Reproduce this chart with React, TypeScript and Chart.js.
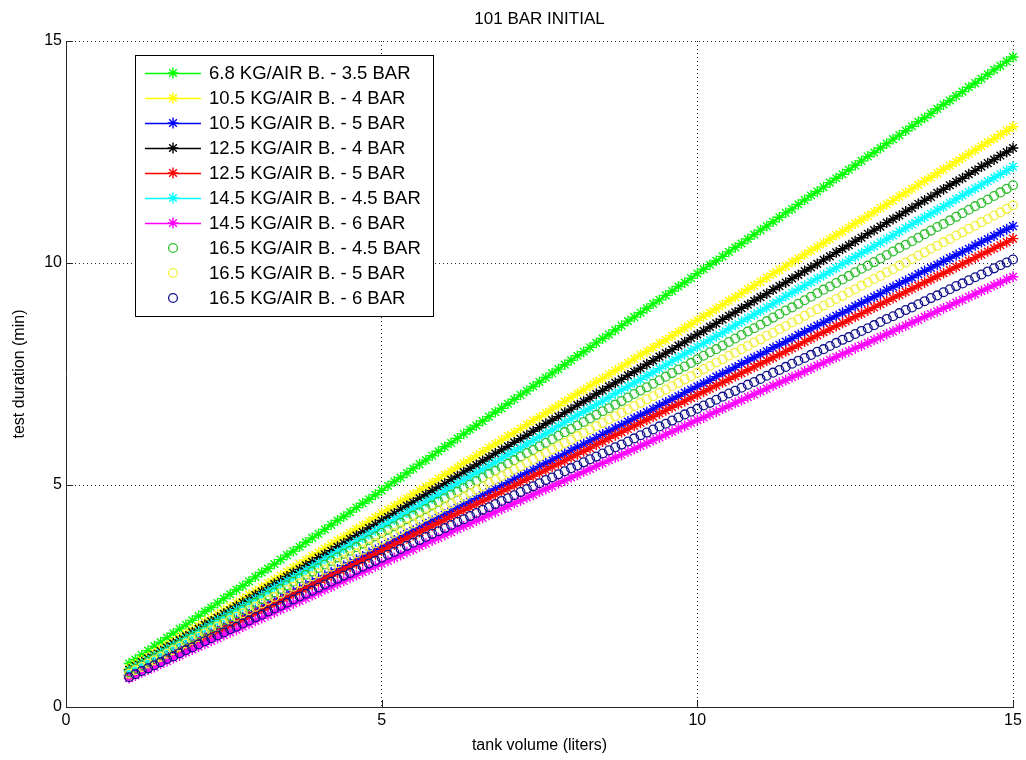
import React, { useEffect, useRef } from "react";
import { Chart, registerables } from "chart.js";
import { drawPoint } from "chart.js/helpers";

Chart.register(...registerables);

const TITLE = "101 BAR INITIAL";
const X_TITLE = "tank volume (liters)";
const Y_TITLE = "test duration (min)";
const X_TICKS = [0, 5, 10, 15];
const Y_TICKS = [0, 5, 10, 15];

const TANK_VOLUME = [
  1, 1.1, 1.2, 1.3, 1.4, 1.5, 1.6, 1.7, 1.8, 1.9,
  2, 2.1, 2.2, 2.3, 2.4, 2.5, 2.6, 2.7, 2.8, 2.9,
  3, 3.1, 3.2, 3.3, 3.4, 3.5, 3.6, 3.7, 3.8, 3.9,
  4, 4.1, 4.2, 4.3, 4.4, 4.5, 4.6, 4.7, 4.8, 4.9,
  5, 5.1, 5.2, 5.3, 5.4, 5.5, 5.6, 5.7, 5.8, 5.9,
  6, 6.1, 6.2, 6.3, 6.4, 6.5, 6.6, 6.7, 6.8, 6.9,
  7, 7.1, 7.2, 7.3, 7.4, 7.5, 7.6, 7.7, 7.8, 7.9,
  8, 8.1, 8.2, 8.3, 8.4, 8.5, 8.6, 8.7, 8.8, 8.9,
  9, 9.1, 9.2, 9.3, 9.4, 9.5, 9.6, 9.7, 9.8, 9.9,
  10, 10.1, 10.2, 10.3, 10.4, 10.5, 10.6, 10.7, 10.8, 10.9,
  11, 11.1, 11.2, 11.3, 11.4, 11.5, 11.6, 11.7, 11.8, 11.9,
  12, 12.1, 12.2, 12.3, 12.4, 12.5, 12.6, 12.7, 12.8, 12.9,
  13, 13.1, 13.2, 13.3, 13.4, 13.5, 13.6, 13.7, 13.8, 13.9,
  14, 14.1, 14.2, 14.3, 14.4, 14.5, 14.6, 14.7, 14.8, 14.9,
  15,
];

const KG68_35 = [
  0.98, 1.07, 1.17, 1.27, 1.37, 1.46, 1.56, 1.66, 1.76, 1.85,
  1.95, 2.05, 2.15, 2.24, 2.34, 2.44, 2.54, 2.64, 2.73, 2.83,
  2.93, 3.03, 3.12, 3.22, 3.32, 3.42, 3.51, 3.61, 3.71, 3.81,
  3.90, 4.00, 4.10, 4.20, 4.29, 4.39, 4.49, 4.59, 4.68, 4.78,
  4.88, 4.98, 5.08, 5.17, 5.27, 5.37, 5.47, 5.56, 5.66, 5.76,
  5.86, 5.95, 6.05, 6.15, 6.25, 6.34, 6.44, 6.54, 6.64, 6.73,
  6.83, 6.93, 7.03, 7.12, 7.22, 7.32, 7.42, 7.52, 7.61, 7.71,
  7.81, 7.91, 8.00, 8.10, 8.20, 8.30, 8.39, 8.49, 8.59, 8.69,
  8.78, 8.88, 8.98, 9.08, 9.17, 9.27, 9.37, 9.47, 9.56, 9.66,
  9.76, 9.86, 9.96, 10.05, 10.15, 10.25, 10.35, 10.44, 10.54, 10.64,
  10.74, 10.83, 10.93, 11.03, 11.13, 11.22, 11.32, 11.42, 11.52, 11.61,
  11.71, 11.81, 11.91, 12.00, 12.10, 12.20, 12.30, 12.40, 12.49, 12.59,
  12.69, 12.79, 12.88, 12.98, 13.08, 13.18, 13.27, 13.37, 13.47, 13.57,
  13.66, 13.76, 13.86, 13.96, 14.05, 14.15, 14.25, 14.35, 14.44, 14.54,
  14.64,
];

const KG105_4 = [
  0.87, 0.96, 1.05, 1.13, 1.22, 1.31, 1.39, 1.48, 1.57, 1.65,
  1.74, 1.83, 1.92, 2.00, 2.09, 2.18, 2.26, 2.35, 2.44, 2.53,
  2.61, 2.70, 2.79, 2.87, 2.96, 3.05, 3.14, 3.22, 3.31, 3.40,
  3.48, 3.57, 3.66, 3.75, 3.83, 3.92, 4.01, 4.09, 4.18, 4.27,
  4.36, 4.44, 4.53, 4.62, 4.70, 4.79, 4.88, 4.96, 5.05, 5.14,
  5.23, 5.31, 5.40, 5.49, 5.57, 5.66, 5.75, 5.84, 5.92, 6.01,
  6.10, 6.18, 6.27, 6.36, 6.45, 6.53, 6.62, 6.71, 6.79, 6.88,
  6.97, 7.06, 7.14, 7.23, 7.32, 7.40, 7.49, 7.58, 7.66, 7.75,
  7.84, 7.93, 8.01, 8.10, 8.19, 8.27, 8.36, 8.45, 8.54, 8.62,
  8.71, 8.80, 8.88, 8.97, 9.06, 9.15, 9.23, 9.32, 9.41, 9.49,
  9.58, 9.67, 9.76, 9.84, 9.93, 10.02, 10.10, 10.19, 10.28, 10.36,
  10.45, 10.54, 10.63, 10.71, 10.80, 10.89, 10.97, 11.06, 11.15, 11.24,
  11.32, 11.41, 11.50, 11.58, 11.67, 11.76, 11.85, 11.93, 12.02, 12.11,
  12.19, 12.28, 12.37, 12.46, 12.54, 12.63, 12.72, 12.80, 12.89, 12.98,
  13.07,
];

const KG105_5 = [
  0.72, 0.79, 0.87, 0.94, 1.01, 1.08, 1.16, 1.23, 1.30, 1.37,
  1.44, 1.52, 1.59, 1.66, 1.73, 1.81, 1.88, 1.95, 2.02, 2.09,
  2.17, 2.24, 2.31, 2.38, 2.45, 2.53, 2.60, 2.67, 2.74, 2.82,
  2.89, 2.96, 3.03, 3.10, 3.18, 3.25, 3.32, 3.39, 3.47, 3.54,
  3.61, 3.68, 3.75, 3.83, 3.90, 3.97, 4.04, 4.12, 4.19, 4.26,
  4.33, 4.40, 4.48, 4.55, 4.62, 4.69, 4.77, 4.84, 4.91, 4.98,
  5.05, 5.13, 5.20, 5.27, 5.34, 5.42, 5.49, 5.56, 5.63, 5.70,
  5.78, 5.85, 5.92, 5.99, 6.06, 6.14, 6.21, 6.28, 6.35, 6.43,
  6.50, 6.57, 6.64, 6.71, 6.79, 6.86, 6.93, 7.00, 7.08, 7.15,
  7.22, 7.29, 7.36, 7.44, 7.51, 7.58, 7.65, 7.73, 7.80, 7.87,
  7.94, 8.01, 8.09, 8.16, 8.23, 8.30, 8.38, 8.45, 8.52, 8.59,
  8.66, 8.74, 8.81, 8.88, 8.95, 9.03, 9.10, 9.17, 9.24, 9.31,
  9.39, 9.46, 9.53, 9.60, 9.67, 9.75, 9.82, 9.89, 9.96, 10.04,
  10.11, 10.18, 10.25, 10.32, 10.40, 10.47, 10.54, 10.61, 10.69, 10.76,
  10.83,
];

const KG125_4 = [
  0.84, 0.92, 1.01, 1.09, 1.17, 1.26, 1.34, 1.43, 1.51, 1.59,
  1.68, 1.76, 1.85, 1.93, 2.01, 2.10, 2.18, 2.27, 2.35, 2.43,
  2.52, 2.60, 2.68, 2.77, 2.85, 2.94, 3.02, 3.10, 3.19, 3.27,
  3.36, 3.44, 3.52, 3.61, 3.69, 3.78, 3.86, 3.94, 4.03, 4.11,
  4.20, 4.28, 4.36, 4.45, 4.53, 4.61, 4.70, 4.78, 4.87, 4.95,
  5.03, 5.12, 5.20, 5.29, 5.37, 5.45, 5.54, 5.62, 5.71, 5.79,
  5.87, 5.96, 6.04, 6.12, 6.21, 6.29, 6.38, 6.46, 6.54, 6.63,
  6.71, 6.80, 6.88, 6.96, 7.05, 7.13, 7.22, 7.30, 7.38, 7.47,
  7.55, 7.63, 7.72, 7.80, 7.89, 7.97, 8.05, 8.14, 8.22, 8.31,
  8.39, 8.47, 8.56, 8.64, 8.73, 8.81, 8.89, 8.98, 9.06, 9.15,
  9.23, 9.31, 9.40, 9.48, 9.56, 9.65, 9.73, 9.82, 9.90, 9.98,
  10.07, 10.15, 10.24, 10.32, 10.40, 10.49, 10.57, 10.66, 10.74, 10.82,
  10.91, 10.99, 11.07, 11.16, 11.24, 11.33, 11.41, 11.49, 11.58, 11.66,
  11.75, 11.83, 11.91, 12.00, 12.08, 12.17, 12.25, 12.33, 12.42, 12.50,
  12.59,
];

const KG125_5 = [
  0.70, 0.77, 0.84, 0.91, 0.98, 1.05, 1.12, 1.20, 1.27, 1.34,
  1.41, 1.48, 1.55, 1.62, 1.69, 1.76, 1.83, 1.90, 1.97, 2.04,
  2.11, 2.18, 2.25, 2.32, 2.39, 2.46, 2.53, 2.60, 2.67, 2.74,
  2.81, 2.88, 2.95, 3.02, 3.09, 3.16, 3.23, 3.30, 3.37, 3.44,
  3.52, 3.59, 3.66, 3.73, 3.80, 3.87, 3.94, 4.01, 4.08, 4.15,
  4.22, 4.29, 4.36, 4.43, 4.50, 4.57, 4.64, 4.71, 4.78, 4.85,
  4.92, 4.99, 5.06, 5.13, 5.20, 5.27, 5.34, 5.41, 5.48, 5.55,
  5.62, 5.69, 5.76, 5.83, 5.91, 5.98, 6.05, 6.12, 6.19, 6.26,
  6.33, 6.40, 6.47, 6.54, 6.61, 6.68, 6.75, 6.82, 6.89, 6.96,
  7.03, 7.10, 7.17, 7.24, 7.31, 7.38, 7.45, 7.52, 7.59, 7.66,
  7.73, 7.80, 7.87, 7.94, 8.01, 8.08, 8.15, 8.23, 8.30, 8.37,
  8.44, 8.51, 8.58, 8.65, 8.72, 8.79, 8.86, 8.93, 9.00, 9.07,
  9.14, 9.21, 9.28, 9.35, 9.42, 9.49, 9.56, 9.63, 9.70, 9.77,
  9.84, 9.91, 9.98, 10.05, 10.12, 10.19, 10.26, 10.33, 10.40, 10.47,
  10.55,
];

const KG145_45 = [
  0.81, 0.89, 0.97, 1.05, 1.14, 1.22, 1.30, 1.38, 1.46, 1.54,
  1.62, 1.70, 1.78, 1.87, 1.95, 2.03, 2.11, 2.19, 2.27, 2.35,
  2.43, 2.51, 2.60, 2.68, 2.76, 2.84, 2.92, 3.00, 3.08, 3.16,
  3.24, 3.33, 3.41, 3.49, 3.57, 3.65, 3.73, 3.81, 3.89, 3.97,
  4.06, 4.14, 4.22, 4.30, 4.38, 4.46, 4.54, 4.62, 4.70, 4.78,
  4.87, 4.95, 5.03, 5.11, 5.19, 5.27, 5.35, 5.43, 5.51, 5.60,
  5.68, 5.76, 5.84, 5.92, 6.00, 6.08, 6.16, 6.24, 6.33, 6.41,
  6.49, 6.57, 6.65, 6.73, 6.81, 6.89, 6.97, 7.06, 7.14, 7.22,
  7.30, 7.38, 7.46, 7.54, 7.62, 7.70, 7.79, 7.87, 7.95, 8.03,
  8.11, 8.19, 8.27, 8.35, 8.43, 8.52, 8.60, 8.68, 8.76, 8.84,
  8.92, 9.00, 9.08, 9.16, 9.25, 9.33, 9.41, 9.49, 9.57, 9.65,
  9.73, 9.81, 9.89, 9.98, 10.06, 10.14, 10.22, 10.30, 10.38, 10.46,
  10.54, 10.62, 10.71, 10.79, 10.87, 10.95, 11.03, 11.11, 11.19, 11.27,
  11.35, 11.44, 11.52, 11.60, 11.68, 11.76, 11.84, 11.92, 12.00, 12.08,
  12.17,
];

const KG145_6 = [
  0.65, 0.71, 0.78, 0.84, 0.90, 0.97, 1.03, 1.10, 1.16, 1.23,
  1.29, 1.36, 1.42, 1.49, 1.55, 1.62, 1.68, 1.74, 1.81, 1.87,
  1.94, 2.00, 2.07, 2.13, 2.20, 2.26, 2.33, 2.39, 2.45, 2.52,
  2.58, 2.65, 2.71, 2.78, 2.84, 2.91, 2.97, 3.04, 3.10, 3.17,
  3.23, 3.29, 3.36, 3.42, 3.49, 3.55, 3.62, 3.68, 3.75, 3.81,
  3.88, 3.94, 4.01, 4.07, 4.13, 4.20, 4.26, 4.33, 4.39, 4.46,
  4.52, 4.59, 4.65, 4.72, 4.78, 4.85, 4.91, 4.97, 5.04, 5.10,
  5.17, 5.23, 5.30, 5.36, 5.43, 5.49, 5.56, 5.62, 5.68, 5.75,
  5.81, 5.88, 5.94, 6.01, 6.07, 6.14, 6.20, 6.27, 6.33, 6.40,
  6.46, 6.52, 6.59, 6.65, 6.72, 6.78, 6.85, 6.91, 6.98, 7.04,
  7.11, 7.17, 7.24, 7.30, 7.36, 7.43, 7.49, 7.56, 7.62, 7.69,
  7.75, 7.82, 7.88, 7.95, 8.01, 8.08, 8.14, 8.20, 8.27, 8.33,
  8.40, 8.46, 8.53, 8.59, 8.66, 8.72, 8.79, 8.85, 8.91, 8.98,
  9.04, 9.11, 9.17, 9.24, 9.30, 9.37, 9.43, 9.50, 9.56, 9.63,
  9.69,
];

const KG165_45 = [
  0.78, 0.86, 0.94, 1.02, 1.10, 1.17, 1.25, 1.33, 1.41, 1.49,
  1.57, 1.64, 1.72, 1.80, 1.88, 1.96, 2.04, 2.11, 2.19, 2.27,
  2.35, 2.43, 2.51, 2.58, 2.66, 2.74, 2.82, 2.90, 2.98, 3.05,
  3.13, 3.21, 3.29, 3.37, 3.45, 3.52, 3.60, 3.68, 3.76, 3.84,
  3.92, 3.99, 4.07, 4.15, 4.23, 4.31, 4.38, 4.46, 4.54, 4.62,
  4.70, 4.78, 4.85, 4.93, 5.01, 5.09, 5.17, 5.25, 5.32, 5.40,
  5.48, 5.56, 5.64, 5.72, 5.79, 5.87, 5.95, 6.03, 6.11, 6.19,
  6.26, 6.34, 6.42, 6.50, 6.58, 6.66, 6.73, 6.81, 6.89, 6.97,
  7.05, 7.13, 7.20, 7.28, 7.36, 7.44, 7.52, 7.60, 7.67, 7.75,
  7.83, 7.91, 7.99, 8.06, 8.14, 8.22, 8.30, 8.38, 8.46, 8.53,
  8.61, 8.69, 8.77, 8.85, 8.93, 9.00, 9.08, 9.16, 9.24, 9.32,
  9.40, 9.47, 9.55, 9.63, 9.71, 9.79, 9.87, 9.94, 10.02, 10.10,
  10.18, 10.26, 10.34, 10.41, 10.49, 10.57, 10.65, 10.73, 10.81, 10.88,
  10.96, 11.04, 11.12, 11.20, 11.28, 11.35, 11.43, 11.51, 11.59, 11.67,
  11.75,
];

const KG165_5 = [
  0.75, 0.83, 0.90, 0.98, 1.05, 1.13, 1.20, 1.28, 1.36, 1.43,
  1.51, 1.58, 1.66, 1.73, 1.81, 1.88, 1.96, 2.03, 2.11, 2.18,
  2.26, 2.33, 2.41, 2.48, 2.56, 2.64, 2.71, 2.79, 2.86, 2.94,
  3.01, 3.09, 3.16, 3.24, 3.31, 3.39, 3.46, 3.54, 3.61, 3.69,
  3.77, 3.84, 3.92, 3.99, 4.07, 4.14, 4.22, 4.29, 4.37, 4.44,
  4.52, 4.59, 4.67, 4.74, 4.82, 4.89, 4.97, 5.05, 5.12, 5.20,
  5.27, 5.35, 5.42, 5.50, 5.57, 5.65, 5.72, 5.80, 5.87, 5.95,
  6.02, 6.10, 6.17, 6.25, 6.33, 6.40, 6.48, 6.55, 6.63, 6.70,
  6.78, 6.85, 6.93, 7.00, 7.08, 7.15, 7.23, 7.30, 7.38, 7.45,
  7.53, 7.61, 7.68, 7.76, 7.83, 7.91, 7.98, 8.06, 8.13, 8.21,
  8.28, 8.36, 8.43, 8.51, 8.58, 8.66, 8.73, 8.81, 8.89, 8.96,
  9.04, 9.11, 9.19, 9.26, 9.34, 9.41, 9.49, 9.56, 9.64, 9.71,
  9.79, 9.86, 9.94, 10.01, 10.09, 10.17, 10.24, 10.32, 10.39, 10.47,
  10.54, 10.62, 10.69, 10.77, 10.84, 10.92, 10.99, 11.07, 11.14, 11.22,
  11.30,
];

const KG165_6 = [
  0.67, 0.74, 0.81, 0.87, 0.94, 1.01, 1.08, 1.14, 1.21, 1.28,
  1.34, 1.41, 1.48, 1.55, 1.61, 1.68, 1.75, 1.81, 1.88, 1.95,
  2.02, 2.08, 2.15, 2.22, 2.28, 2.35, 2.42, 2.49, 2.55, 2.62,
  2.69, 2.76, 2.82, 2.89, 2.96, 3.02, 3.09, 3.16, 3.23, 3.29,
  3.36, 3.43, 3.49, 3.56, 3.63, 3.70, 3.76, 3.83, 3.90, 3.96,
  4.03, 4.10, 4.17, 4.23, 4.30, 4.37, 4.44, 4.50, 4.57, 4.64,
  4.70, 4.77, 4.84, 4.91, 4.97, 5.04, 5.11, 5.17, 5.24, 5.31,
  5.38, 5.44, 5.51, 5.58, 5.64, 5.71, 5.78, 5.85, 5.91, 5.98,
  6.05, 6.12, 6.18, 6.25, 6.32, 6.38, 6.45, 6.52, 6.59, 6.65,
  6.72, 6.79, 6.85, 6.92, 6.99, 7.06, 7.12, 7.19, 7.26, 7.32,
  7.39, 7.46, 7.53, 7.59, 7.66, 7.73, 7.80, 7.86, 7.93, 8.00,
  8.06, 8.13, 8.20, 8.27, 8.33, 8.40, 8.47, 8.53, 8.60, 8.67,
  8.74, 8.80, 8.87, 8.94, 9.00, 9.07, 9.14, 9.21, 9.27, 9.34,
  9.41, 9.48, 9.54, 9.61, 9.68, 9.74, 9.81, 9.88, 9.95, 10.01,
  10.08,
];

const SERIES_LABELS = [
  "6.8 KG/AIR B. - 3.5 BAR",
  "10.5 KG/AIR B. - 4 BAR",
  "10.5 KG/AIR B. - 5 BAR",
  "12.5 KG/AIR B. - 4 BAR",
  "12.5 KG/AIR B. - 5 BAR",
  "14.5 KG/AIR B. - 4.5 BAR",
  "14.5 KG/AIR B. - 6 BAR",
  "16.5 KG/AIR B. - 4.5 BAR",
  "16.5 KG/AIR B. - 5 BAR",
  "16.5 KG/AIR B. - 6 BAR",
];
const SERIES_VALUES = [
  KG68_35, KG105_4, KG105_5, KG125_4, KG125_5,
  KG145_45, KG145_6, KG165_45, KG165_5, KG165_6,
];
const SERIES_COLORS = [
  "#00ff00", "#ffff00", "#0000ff", "#000000", "#ff0000",
  "#00ffff", "#ff00ff", "#2fbf2f", "#f0f040", "#10108c",
];
const SERIES_MARKERS = [
  "star", "star", "star", "star", "star",
  "star", "star", "circle", "circle", "circle",
];

const FONT = '"Liberation Sans", Arial, Helvetica, sans-serif';

const LEG = { x: 135, y: 55, w: 298, firstRow: 73, rowH: 25, lineX0: 145, lineX1: 201, markX: 173, textX: 209 };

const legendPlugin = {
  id: "matlabLegend",
  afterDraw(chart: any) {
    const ctx = chart.ctx as CanvasRenderingContext2D;
    const ds = chart.data.datasets;
    const h = (ds.length - 1) * LEG.rowH + (LEG.firstRow - LEG.y) * 2;
    ctx.save();
    ctx.fillStyle = "#ffffff";
    ctx.fillRect(LEG.x, LEG.y, LEG.w, h);
    ctx.strokeStyle = "#000000";
    ctx.lineWidth = 1;
    ctx.strokeRect(LEG.x + 0.5, LEG.y + 0.5, LEG.w, h);
    ctx.font = `18.5px ${FONT}`;
    ctx.textBaseline = "middle";
    ds.forEach((d: any, i: number) => {
      const y = LEG.firstRow + i * LEG.rowH;
      if (d.showLine !== false) {
        ctx.strokeStyle = d.borderColor;
        ctx.lineWidth = 1.3;
        ctx.beginPath();
        ctx.moveTo(LEG.lineX0, y + 0.5);
        ctx.lineTo(LEG.lineX1, y + 0.5);
        ctx.stroke();
      }
      ctx.strokeStyle = d.pointBorderColor;
      ctx.fillStyle = "rgba(0,0,0,0)";
      ctx.lineWidth = d.pointBorderWidth;
      drawPoint(ctx, { pointStyle: d.pointStyle, radius: d.pointRadius, rotation: 0, borderWidth: d.pointBorderWidth }, LEG.markX, y);
      ctx.fillStyle = "#000000";
      ctx.fillText(d.label, LEG.textX, y + 1);
    });
    ctx.restore();
  },
};

const decorPlugin = {
  id: "matlabDecor",
  afterDraw(chart: any) {
    const ctx = chart.ctx as CanvasRenderingContext2D;
    const { left, right, top, bottom } = chart.chartArea;
    const xs = chart.scales.x;
    const ys = chart.scales.y;
    ctx.save();
    ctx.strokeStyle = "#262626";
    ctx.lineWidth = 1;
    ctx.beginPath();
    X_TICKS.forEach((v) => {
      const px = Math.round(xs.getPixelForValue(v)) + 0.5;
      ctx.moveTo(px, bottom);
      ctx.lineTo(px, bottom - 7);
    });
    Y_TICKS.forEach((v) => {
      const py = Math.round(ys.getPixelForValue(v)) + 0.5;
      ctx.moveTo(left, py);
      ctx.lineTo(left + 7, py);
    });
    ctx.stroke();
    ctx.fillStyle = "#000000";
    ctx.font = `17px ${FONT}`;
    ctx.textAlign = "center";
    ctx.textBaseline = "middle";
    ctx.fillText(TITLE, (left + right) / 2, top - 22);
    ctx.restore();
  },
};

export default function App() {
  const canvasRef = useRef<HTMLCanvasElement | null>(null);

  useEffect(() => {
    if (!canvasRef.current) return;
    const n = SERIES_VALUES.length;
    const datasets = SERIES_VALUES.map((vals, i) => {
      const isCircle = SERIES_MARKERS[i] === "circle";
      return {
        label: SERIES_LABELS[i],
        data: TANK_VOLUME.map((x, j) => ({ x, y: vals[j] })),
        borderColor: SERIES_COLORS[i],
        backgroundColor: "rgba(0,0,0,0)",
        pointBorderColor: SERIES_COLORS[i],
        pointBackgroundColor: "rgba(0,0,0,0)",
        pointStyle: SERIES_MARKERS[i],
        pointRadius: isCircle ? 4.4 : 5.4,
        pointBorderWidth: isCircle ? 1.3 : 1.4,
        borderWidth: 1.6,
        showLine: !isCircle,
        fill: false,
        tension: 0,
        clip: false,
        order: n - i,
      };
    });

    const tickFont = { family: FONT, size: 16 };
    const chart = new Chart(canvasRef.current, {
      type: "line",
      data: { datasets } as any,
      plugins: [decorPlugin, legendPlugin],
      options: {
        animation: false,
        responsive: true,
        maintainAspectRatio: false,
        layout: { padding: { top: 41, right: 13, left: 0, bottom: 0 } },
        plugins: {
          legend: { display: false },
          tooltip: { enabled: false },
          title: { display: false },
        },
        scales: {
          x: {
            type: "linear",
            min: 0,
            max: 15,
            afterBuildTicks: (s: any) => { s.ticks = X_TICKS.map((v) => ({ value: v })); },
            afterFit: (s: any) => { s.height = 53; },
            ticks: { font: tickFont, color: "#000", padding: 4, maxRotation: 0 },
            grid: { color: "rgba(0,0,0,0.85)", lineWidth: 1, drawTicks: false },
            border: { display: true, color: "#262626", width: 1, dash: [1, 3] },
            title: { display: true, text: X_TITLE, font: { family: FONT, size: 16 }, color: "#000", padding: { top: 0, bottom: 5 } },
          },
          y: {
            type: "linear",
            min: 0,
            max: 15,
            afterBuildTicks: (s: any) => { s.ticks = Y_TICKS.map((v) => ({ value: v })); },
            afterFit: (s: any) => { s.width = 66; },
            ticks: { font: tickFont, color: "#000", padding: 4 },
            grid: { color: "rgba(0,0,0,0.85)", lineWidth: 1, drawTicks: false },
            border: { display: true, color: "#262626", width: 1, dash: [1, 3] },
            title: { display: true, text: Y_TITLE, font: { family: FONT, size: 16 }, color: "#000", padding: { top: 10, bottom: 0 } },
          },
        },
      } as any,
    });
    return () => chart.destroy();
  }, []);

  return (
    <div style={{ position: "fixed", left: 0, top: 0, width: 1026, height: 760, background: "#ffffff" }}>
      <canvas ref={canvasRef} />
    </div>
  );
}
